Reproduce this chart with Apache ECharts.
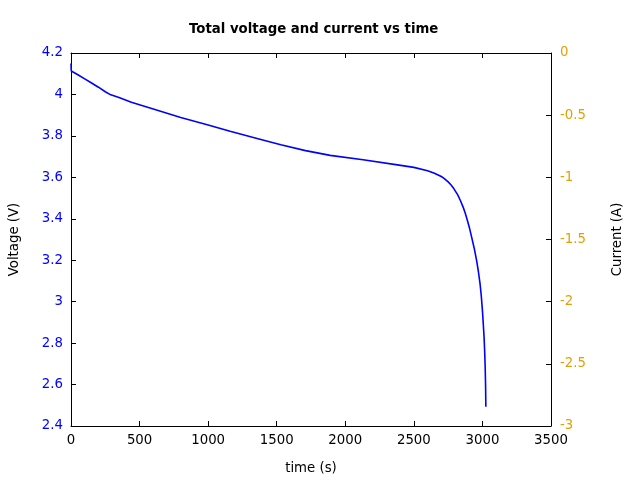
<!DOCTYPE html>
<html>
<head>
<meta charset="utf-8">
<script src="https://cdn.jsdelivr.net/npm/echarts@6/dist/echarts.min.js"></script>
<style>html,body{margin:0;padding:0;background:#fff}#c{width:640px;height:480px}</style>
</head>
<body>
<div id="c"></div>
<script>
const timeS = [0, 2, 50, 100, 150, 200, 250, 290, 350, 440, 600, 800, 1000, 1160, 1350, 1530, 1710, 1890, 2130, 2380, 2500, 2600, 2650, 2700, 2720, 2750, 2770, 2790, 2820, 2840, 2860, 2875, 2890, 2905, 2920, 2940, 2958, 2970, 2983, 2992, 3000, 3006, 3012, 3016, 3020, 3023, 3025];
const voltage = [4.15, 4.113, 4.095, 4.075, 4.055, 4.035, 4.013, 3.998, 3.985, 3.962, 3.930, 3.889, 3.853, 3.822, 3.789, 3.757, 3.729, 3.706, 3.685, 3.660, 3.648, 3.632, 3.620, 3.604, 3.595, 3.578, 3.564, 3.547, 3.515, 3.487, 3.455, 3.427, 3.393, 3.357, 3.315, 3.258, 3.197, 3.148, 3.085, 3.025, 2.957, 2.895, 2.829, 2.765, 2.685, 2.595, 2.493];
const titleText = 'Total voltage and current vs time';
const xName = 'time (s)';
const yLeftName = 'Voltage (V)';
const yRightName = 'Current (A)';

const font = 'DejaVu Sans';
const fs = 13.3;
const chart = echarts.init(document.getElementById('c'), null, {renderer: 'canvas'});
const axisLine = {show: true, onZero: false, lineStyle: {color: '#000', width: 1}};
const ticks = {show: true, inside: true, length: 5, lineStyle: {color: '#000'}};
chart.setOption({
  animation: false,
  backgroundColor: '#fff',
  title: {
    text: titleText, left: 184, top: 18,
    textStyle: {fontFamily: font, fontSize: fs, fontWeight: 'bold', color: '#000'}
  },
  grid: {left: 70, right: 89, top: 53, bottom: 50},
  xAxis: [{
    type: 'value', min: 0, max: 3500, interval: 500, position: 'bottom',
    name: xName, nameLocation: 'middle', nameGap: 36,
    nameTextStyle: {fontFamily: font, fontSize: fs, color: '#000'},
    axisLine: axisLine, axisTick: ticks, splitLine: {show: false},
    axisLabel: {fontFamily: font, fontSize: fs, color: '#000', margin: 8,
      formatter: v => String(v)}
  }, {
    type: 'value', min: 0, max: 3500, interval: 500, position: 'top',
    axisLine: axisLine, axisTick: ticks, splitLine: {show: false},
    axisLabel: {show: false}
  }],
  yAxis: [{
    type: 'value', min: 2.4, max: 4.2, interval: 0.2, position: 'left',
    name: yLeftName, nameLocation: 'middle', nameGap: 50, nameRotate: 90,
    nameTextStyle: {fontFamily: font, fontSize: fs, color: '#000'},
    axisLine: axisLine, axisTick: ticks, splitLine: {show: false},
    axisLabel: {fontFamily: font, fontSize: fs, color: '#0000ff', margin: 8,
      formatter: v => String(Math.round(v * 10) / 10)}
  }, {
    type: 'value', min: -3, max: 0, interval: 0.5, position: 'right',
    name: yRightName, nameLocation: 'middle', nameGap: 60, nameRotate: 90,
    nameTextStyle: {fontFamily: font, fontSize: fs, color: '#000'},
    axisLine: axisLine, axisTick: ticks, splitLine: {show: false},
    axisLabel: {fontFamily: font, fontSize: fs, color: '#e69f00', margin: 9}
  }],
  series: [{
    type: 'line', xAxisIndex: 0, yAxisIndex: 0,
    data: timeS.map((t, i) => [t, voltage[i]]),
    showSymbol: false, smooth: false,
    lineStyle: {color: '#0000ff', width: 1.6}
  }]
});
</script>
</body>
</html>
